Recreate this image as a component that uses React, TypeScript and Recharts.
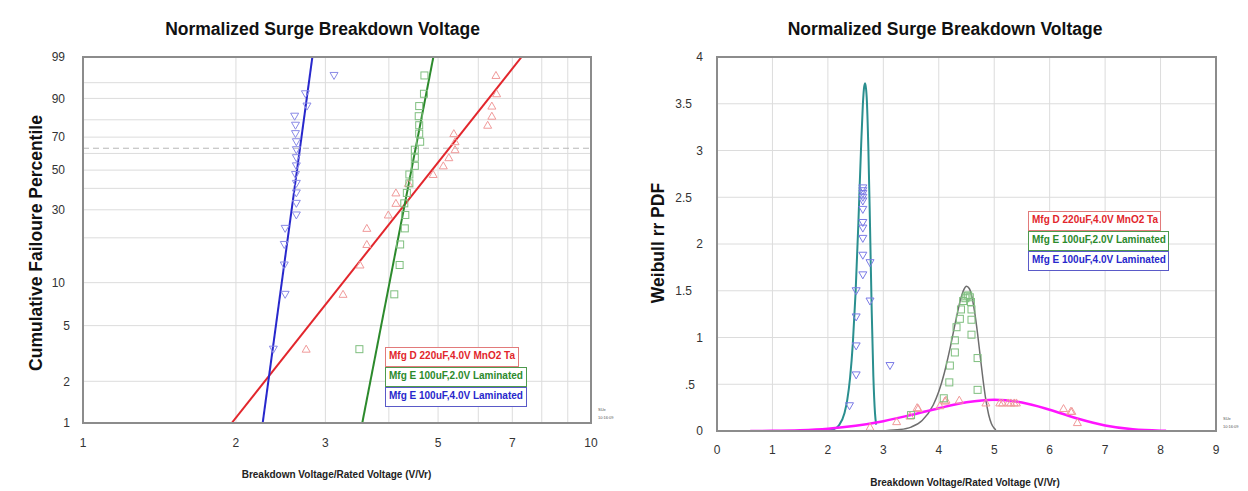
import React from 'react';
import { ComposedChart, XAxis, YAxis, CartesianGrid, Scatter, Line, ReferenceLine } from 'recharts';

const FONT = '"Liberation Sans", Arial, Helvetica, sans-serif';

// ---------- Left panel: Weibull probability plot [V/Vr, cumulative %] ----------
const mfgDProb: number[][] = [
  [2.75, 3.4], [3.25, 8.3], [3.51, 13.2], [3.62, 18.1], [3.62, 23.0], [3.99, 27.9], [4.13, 32.8],
  [4.13, 37.7], [4.37, 42.6], [4.89, 47.5], [5.12, 52.5], [5.25, 57.4], [5.40, 62.3], [5.40, 67.2],
  [5.37, 72.1], [6.26, 77.0], [6.38, 81.9], [6.38, 86.8], [6.52, 91.7], [6.50, 96.6],
];
const mfgE2Prob: number[][] = [
  [3.50, 3.4], [4.10, 8.3], [4.20, 13.2], [4.21, 18.1], [4.30, 23.0], [4.31, 27.9], [4.29, 32.8],
  [4.34, 37.7], [4.39, 42.6], [4.39, 47.5], [4.50, 52.5], [4.50, 57.4], [4.50, 62.3], [4.61, 67.2],
  [4.59, 72.1], [4.59, 77.0], [4.58, 81.9], [4.59, 86.8], [4.69, 91.7], [4.70, 96.6],
];
const mfgE4Prob: number[][] = [
  [2.37, 3.4], [2.50, 8.3], [2.49, 13.2], [2.49, 18.1], [2.50, 23.0], [2.63, 27.9], [2.63, 32.8],
  [2.63, 37.7], [2.63, 42.6], [2.62, 47.5], [2.63, 52.5], [2.63, 57.4], [2.63, 62.3], [2.63, 67.2],
  [2.62, 72.1], [2.62, 77.0], [2.61, 81.9], [2.76, 86.8], [2.74, 91.7], [3.12, 96.6],
];
const mfgDFit: number[][] = [[1.962, 1], [7.30, 99]];
const mfgE2Fit: number[][] = [[3.546, 1], [4.894, 99]];
const mfgE4Fit: number[][] = [[2.258, 1], [2.828, 99]];

const leftXTicks = [1, 2, 3, 4, 5, 6, 7, 8, 9, 10];
const leftXLabels = [1, 2, 3, 5, 7, 10];
const pctGrid = [1, 2, 5, 10, 20, 30, 40, 50, 60, 70, 80, 90, 95, 99];
const pctLabels = [1, 2, 5, 10, 30, 50, 70, 90, 99];
const charLifePct = 63.2;

// ---------- Right panel: Weibull PDF ----------
const mfgDDens: number[][] = [
  [2.76, 0.04], [3.24, 0.10], [3.48, 0.16], [3.61, 0.25], [3.63, 0.24], [4.02, 0.27], [4.11, 0.32],
  [4.13, 0.33], [4.37, 0.33], [4.85, 0.30], [5.10, 0.30], [5.15, 0.30], [5.25, 0.30], [5.30, 0.30],
  [5.36, 0.30], [5.40, 0.30], [6.25, 0.24], [6.38, 0.21], [6.40, 0.21], [6.50, 0.09],
];
const mfgE2Dens: number[][] = [
  [3.50, 0.17], [4.09, 0.35], [4.19, 0.52], [4.20, 0.70], [4.29, 0.84], [4.29, 0.97], [4.32, 1.11],
  [4.38, 1.20], [4.40, 1.30], [4.44, 1.39], [4.48, 1.42], [4.50, 1.44], [4.53, 1.45], [4.56, 1.43],
  [4.58, 1.38], [4.59, 1.30], [4.59, 1.19], [4.59, 1.03], [4.70, 0.78], [4.70, 0.44],
];
const mfgE4Dens: number[][] = [
  [2.39, 0.27], [2.51, 0.60], [2.51, 0.91], [2.51, 1.22], [2.76, 1.39], [2.51, 1.50], [2.63, 1.67],
  [2.76, 1.80], [2.63, 1.88], [2.63, 2.06], [2.63, 2.17], [2.63, 2.23], [2.63, 2.37], [2.63, 2.46],
  [2.63, 2.50], [2.63, 2.54], [2.63, 2.57], [2.63, 2.60], [3.12, 0.70],
];
const mfgDPdf: number[][] = [
  [0.6, 0.0], [1.0, 0.002], [1.5, 0.009], [2.0, 0.025], [2.5, 0.056], [3.0, 0.105], [3.5, 0.171],
  [4.0, 0.244], [4.5, 0.307], [5.0, 0.334], [5.5, 0.305], [6.0, 0.228], [6.5, 0.134], [7.0, 0.059],
  [7.5, 0.018], [8.0, 0.004], [8.1, 0.003],
];
const mfgE2Pdf: number[][] = [
  [2.9, 0.001], [3.0, 0.003], [3.3, 0.015], [3.5, 0.042], [3.7, 0.112], [3.9, 0.278], [4.0, 0.422],
  [4.1, 0.621], [4.2, 0.875], [4.3, 1.162], [4.4, 1.422], [4.45, 1.509], [4.5, 1.548], [4.55, 1.524],
  [4.6, 1.428], [4.65, 1.261], [4.7, 1.04], [4.75, 0.788], [4.8, 0.54], [4.85, 0.329], [4.9, 0.174],
  [4.95, 0.078], [5.0, 0.029], [5.03, 0.012],
];
const mfgE4Pdf: number[][] = [
  [1.85, 0.0], [1.9, 0.001], [2.0, 0.005], [2.1, 0.018], [2.2, 0.061], [2.3, 0.193], [2.35, 0.335],
  [2.4, 0.568], [2.45, 0.937], [2.5, 1.486], [2.55, 2.227], [2.6, 3.059], [2.63, 3.483], [2.65, 3.66],
  [2.67, 3.72], [2.69, 3.65], [2.7, 3.568], [2.73, 3.021], [2.76, 2.189], [2.79, 1.294], [2.82, 0.586],
  [2.85, 0.188], [2.87, 0.069],
];
const rightXTicks = [0, 1, 2, 3, 4, 5, 6, 7, 8, 9];
const rightYTicks = [0, 0.5, 1, 1.5, 2, 2.5, 3, 3.5, 4];

const legendNames = ['Mfg D 220uF,4.0V MnO2 Ta', 'Mfg E 100uF,2.0V Laminated', 'Mfg E 100uF,4.0V Laminated'];
const C_RED = '#e2262c';
const C_GREEN = '#2c8a2c';
const C_BLUE = '#2828cc';

const weibit = (p: number) => Math.log(-Math.log(1 - p / 100));
const toProb = (arr: number[][]) => arr.map(([x, p]) => ({ x, y: weibit(p) }));
const toXY = (arr: number[][]) => arr.map(([x, y]) => ({ x, y }));

const upTri = (color: string) => (props: any) => {
  const { cx, cy } = props;
  if (cx == null || cy == null) return <g />;
  return <path d={`M${cx},${cy - 4}L${cx + 4},${cy + 3}L${cx - 4},${cy + 3}Z`} fill="none" stroke={color} strokeWidth={1} />;
};
const downTri = (color: string) => (props: any) => {
  const { cx, cy } = props;
  if (cx == null || cy == null) return <g />;
  return <path d={`M${cx - 4},${cy - 3}L${cx + 4},${cy - 3}L${cx},${cy + 4}Z`} fill="none" stroke={color} strokeWidth={1} />;
};
const square = (color: string) => (props: any) => {
  const { cx, cy } = props;
  if (cx == null || cy == null) return <g />;
  return <rect x={cx - 3.5} y={cy - 3.5} width={7} height={7} fill="none" stroke={color} strokeWidth={1} />;
};

// Left chart starts at page x=0, right chart at page x=640
const LeftYTick = (props: any) => {
  const { y, payload } = props;
  const p = Math.round(100 * (1 - Math.exp(-Math.exp(payload.value))));
  if (!pctLabels.includes(p)) return <g />;
  return (
    <text x={p >= 10 ? 65 : 70} y={y} dy="0.355em" textAnchor="end" fontSize={12} fill="#333" fontFamily={FONT}>
      {p}
    </text>
  );
};

const RightYTick = (props: any) => {
  const { y, payload } = props;
  const v = payload.value as number;
  const label = v === 0.5 ? '.5' : String(v);
  const xr = v === 0.5 ? 55 : v % 1 !== 0 ? 52 : 63;
  return (
    <text x={xr} y={y} dy="0.355em" textAnchor="end" fontSize={12} fill="#333" fontFamily={FONT}>
      {label}
    </text>
  );
};

const FRAME_COLOR = '#8c8c8c';
const frame = { stroke: FRAME_COLOR, strokeWidth: 2 };
const tickStyle = { fontSize: 12, fill: '#333', fontFamily: FONT };

const abs = (s: React.CSSProperties): React.CSSProperties => ({ position: 'absolute', fontFamily: FONT, whiteSpace: 'nowrap', ...s });

const Legend = ({ left, top, w1, w2 }: { left: number; top: number; w1: number; w2: number }) => {
  const colors = [C_RED, C_GREEN, C_BLUE];
  const borders = ['#e27a7a', '#4e9a4e', '#5a5ac8'];
  return (
    <>
      {legendNames.map((n, i) => (
        <div
          key={n}
          style={abs({
            left,
            top: top + i * 20,
            width: i === 0 ? w1 : w2,
            height: 20,
            boxSizing: 'border-box',
            border: `1px solid ${borders[i]}`,
            background: '#fff',
            color: colors[i],
            fontWeight: 'bold',
            fontSize: 10,
            lineHeight: '16px',
            paddingLeft: 3,
          })}
        >
          {n}
        </div>
      ))}
    </>
  );
};

const Stamp = ({ left, top }: { left: number; top: number }) => (
  <div style={abs({ left, top, fontSize: 4, lineHeight: '8px', color: '#555' })}>
    SUe
    <br />
    10:16:09
  </div>
);

const Frame = ({ left, top, right, bottom }: { left: number; top: number; right: number; bottom: number }) => (
  <div
    style={{
      position: 'absolute',
      left: left - 1,
      top: top - 1,
      width: right - left + 2,
      height: bottom - top + 2,
      boxSizing: 'border-box',
      border: `2px solid ${FRAME_COLOR}`,
      pointerEvents: 'none',
    }}
  />
);

export default function App() {
  const leftYDomain = [weibit(1), weibit(99)];
  return (
    <div style={{ position: 'absolute', left: 0, top: 0, width: 1248, height: 491, background: '#fff', overflow: 'hidden' }}>
      {/* Left chart: plot area x 83..591, y 57..423 */}
      <div style={{ position: 'absolute', left: 0, top: 0 }}>
        <ComposedChart width={640} height={491} margin={{ top: 56, right: 48, bottom: 38, left: 43 }}>
          <CartesianGrid stroke="#dcdcdc" strokeWidth={1} />
          <XAxis
            dataKey="x"
            type="number"
            scale="log"
            domain={[1, 10]}
            ticks={leftXTicks}
            allowDataOverflow
            height={30}
            tickSize={0}
            tickLine={false}
            tickMargin={15}
            axisLine={frame}
            tick={tickStyle}
            tickFormatter={(v: number) => (leftXLabels.includes(v) ? String(v) : '')}
            interval={0}
          />
          <XAxis xAxisId="top" orientation="top" type="number" domain={[1, 10]} height={1} tick={false} tickLine={false} axisLine={frame} />
          <YAxis
            dataKey="y"
            type="number"
            domain={leftYDomain}
            ticks={pctGrid.map(weibit)}
            allowDataOverflow
            width={40}
            tickSize={0}
            tickLine={false}
            axisLine={frame}
            tick={<LeftYTick />}
            interval={0}
          />
          <YAxis yAxisId="right" orientation="right" type="number" domain={leftYDomain} width={1} tick={false} tickLine={false} axisLine={frame} />
          <ReferenceLine y={weibit(charLifePct)} stroke="#b8b8b8" strokeDasharray="6 4" strokeWidth={1} />
          <Scatter data={toProb(mfgDProb)} dataKey="y" shape={upTri('#f09a9a')} isAnimationActive={false} />
          <Scatter data={toProb(mfgE2Prob)} dataKey="y" shape={square('#7fbf7f')} isAnimationActive={false} />
          <Scatter data={toProb(mfgE4Prob)} dataKey="y" shape={downTri('#8a8ae6')} isAnimationActive={false} />
          <Line data={toProb(mfgDFit)} dataKey="y" type="linear" stroke={C_RED} strokeWidth={2} dot={false} isAnimationActive={false} />
          <Line data={toProb(mfgE2Fit)} dataKey="y" type="linear" stroke={C_GREEN} strokeWidth={2} dot={false} isAnimationActive={false} />
          <Line data={toProb(mfgE4Fit)} dataKey="y" type="linear" stroke={C_BLUE} strokeWidth={2} dot={false} isAnimationActive={false} />
        </ComposedChart>
      </div>

      {/* Right chart: plot area x 717..1216, y 57..431 */}
      <div style={{ position: 'absolute', left: 640, top: 0 }}>
        <ComposedChart width={608} height={491} margin={{ top: 56, right: 31, bottom: 30, left: 37 }}>
          <CartesianGrid stroke="#dcdcdc" strokeWidth={1} />
          <XAxis
            dataKey="x"
            type="number"
            domain={[0, 9]}
            ticks={rightXTicks}
            allowDataOverflow
            height={30}
            tickSize={0}
            tickLine={false}
            tickMargin={14}
            axisLine={frame}
            tick={tickStyle}
            interval={0}
          />
          <XAxis xAxisId="top" orientation="top" type="number" domain={[0, 9]} height={1} tick={false} tickLine={false} axisLine={frame} />
          <YAxis
            dataKey="y"
            type="number"
            domain={[0, 4]}
            ticks={rightYTicks}
            allowDataOverflow
            width={40}
            tickSize={0}
            tickLine={false}
            axisLine={frame}
            tick={<RightYTick />}
            interval={0}
          />
          <YAxis yAxisId="right" orientation="right" type="number" domain={[0, 4]} width={1} tick={false} tickLine={false} axisLine={frame} />
          <Scatter data={toXY(mfgDDens)} dataKey="y" shape={upTri('#f09a9a')} isAnimationActive={false} />
          <Scatter data={toXY(mfgE2Dens)} dataKey="y" shape={square('#7fbf7f')} isAnimationActive={false} />
          <Scatter data={toXY(mfgE4Dens)} dataKey="y" shape={downTri('#7a7ae6')} isAnimationActive={false} />
          <Line data={toXY(mfgE2Pdf)} dataKey="y" type="monotone" stroke="#6e6e6e" strokeWidth={1.5} dot={false} isAnimationActive={false} />
          <Line data={toXY(mfgE4Pdf)} dataKey="y" type="monotone" stroke="#2a8f8f" strokeWidth={2} dot={false} isAnimationActive={false} />
          <Line data={toXY(mfgDPdf)} dataKey="y" type="monotone" stroke="#ff14ff" strokeWidth={2.5} dot={false} isAnimationActive={false} />
        </ComposedChart>
      </div>

      <Frame left={83} top={57} right={591} bottom={423} />
      <Frame left={717} top={57} right={1216} bottom={431} />

      {/* Titles and axis labels */}
      <div style={abs({ left: 322.5, top: 21, transform: 'translateX(-50%)', fontSize: 17.5, fontWeight: 'bold', lineHeight: 1, color: '#111' })}>
        Normalized Surge Breakdown Voltage
      </div>
      <div style={abs({ left: 945, top: 21, transform: 'translateX(-50%)', fontSize: 17.5, fontWeight: 'bold', lineHeight: 1, color: '#111' })}>
        Normalized Surge Breakdown Voltage
      </div>
      <div style={abs({ left: 37, top: 242.5, transform: 'translate(-50%, -50%) rotate(-90deg)', fontSize: 17.5, fontWeight: 'bold', lineHeight: 1, color: '#111' })}>
        Cumulative Failoure Percentile
      </div>
      <div style={abs({ left: 659, top: 242.5, transform: 'translate(-50%, -50%) rotate(-90deg)', fontSize: 17.5, fontWeight: 'bold', lineHeight: 1, color: '#111' })}>
        Weibull rr PDF
      </div>
      <div style={abs({ left: 336.5, top: 474.5, transform: 'translate(-50%, -50%)', fontSize: 10, fontWeight: 'bold', lineHeight: 1, color: '#222' })}>
        Breakdown Voltage/Rated Voltage (V/Vr)
      </div>
      <div style={abs({ left: 965, top: 483, transform: 'translate(-50%, -50%)', fontSize: 10, fontWeight: 'bold', lineHeight: 1, color: '#222' })}>
        Breakdown Voltage/Rated Voltage (V/Vr)
      </div>

      <Legend left={385} top={347} w1={134} w2={142} />
      <Legend left={1028} top={211} w1={133} w2={141} />
      <Stamp left={598} top={406} />
      <Stamp left={1223} top={415} />
    </div>
  );
}
